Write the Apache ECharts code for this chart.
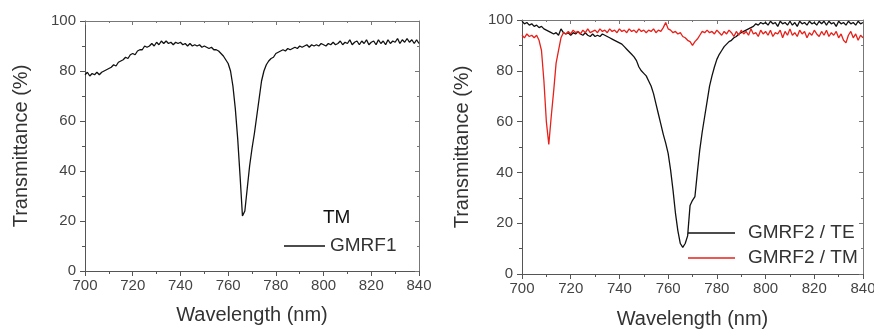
<!DOCTYPE html>
<html>
<head>
<meta charset="utf-8">
<script src="https://cdn.jsdelivr.net/npm/echarts@6/dist/echarts.min.js"></script>
<style>
html,body{margin:0;padding:0;background:#fff;}
#c{width:874px;height:329px;}
</style>
</head>
<body>
<div id="c"></div>
<script>
const wavelength = [
700,701,702,703,704,705,706,707,708,709,710,711,712,713,714,715,716,717,718,719,
720,721,722,723,724,725,726,727,728,729,730,731,732,733,734,735,736,737,738,739,
740,741,742,743,744,745,746,747,748,749,750,751,752,753,754,755,756,757,758,759,
760,761,762,763,764,765,766,767,768,769,770,771,772,773,774,775,776,777,778,779,
780,781,782,783,784,785,786,787,788,789,790,791,792,793,794,795,796,797,798,799,
800,801,802,803,804,805,806,807,808,809,810,811,812,813,814,815,816,817,818,819,
820,821,822,823,824,825,826,827,828,829,830,831,832,833,834,835,836,837,838,839,840];

const gmrf1TM = [
78.5,79.5,78,79,78.5,79.5,78.5,79.5,80,80.5,81,81.5,82.5,82,83.5,84,84.5,85.5,85,86.5,
87,86.5,88,88.5,88.5,90,89.5,90,91,90,91.5,90.5,92,91,92,91,91.5,90.5,91.5,91,
91.5,90.5,91,90,91,90,90.5,90,90.5,89.5,90,89.5,89,89.5,88.5,88.5,88,87,86,84.5,
83,80,74,65,53,38,22,24,33,42,49,55,62,69,76,80,82.5,84,85,85.5,
87,87.5,88,88.5,88,89,88.5,89,89.5,89,90,89.5,90,90.5,89.5,90.5,90,90.5,90,91,
90.5,90,91,90.5,91.5,90.5,91,92,90.5,91.5,91,92.5,90.5,91.5,92,90.5,92,91,92.5,90.5,
91.5,92,90.5,92.5,91,92,90.5,92.5,91,92,91.5,93,91,92.5,91.5,93,91.5,92.5,91,92.5,91];

const gmrf2TE = [
99.5,98.5,99,98,98.5,97.5,98,97,97.5,96.5,96,95.5,95,94.5,95,94,96.5,95,94.5,95,
94,95,94.5,95.5,94.5,94,95,94,93.5,94.5,93.5,94,93.5,94.5,94,93.5,93,92.5,92,91.5,
91,90.5,89.5,88.5,87.5,86.5,85.5,84,81.5,80,79,78,76,74,71,67,63,59,55,51.5,
47.5,41,33,24,17,12,10.5,12,15,27,29,30.5,40,49,56,62,68,74,78,81.5,
84.5,86.5,88,89.5,90.5,91.5,92,93,93.5,94.5,95,95.5,96,96.5,97,97.5,98.5,98,99,98.5,
99,98,99.5,98.5,99,97.5,99.5,98.5,99,98,99.5,98,99,97.5,99.5,98.5,99,98,99.5,98.5,
99,98,99.5,98.5,99.5,98,99.5,98.5,99,97.5,99.5,98.5,99,98,99.5,98.5,99,98,99.5,98.5,99];

const gmrf2TM = [
94,93,94.5,93.5,94,93,94,92,88,76,60,51,62,72,83,88,93,95,94.5,95.5,
94.5,96,95,95.5,94.5,96,95,96.5,95,95.5,96,95,96.5,95.5,96,95,96.5,95.5,96,95,
96.5,95.5,96,95,96.5,95.5,96,95,96.5,95.5,96,95,96,95.5,96.5,95,96,95.5,97,99,
96.5,96,95,95.5,94.5,95,93.5,93,92,91.5,90,91.5,92.5,94,95.5,95,96,95,95.5,94.5,
96,95,94,95.5,94.5,96,95,93.5,95.5,94,96,94.5,95.5,94,96.5,94.5,95,93.5,96,94.5,
95.5,94,96,93.5,95,94.5,96,93,95.5,94,96.5,94,95,93.5,96,94.5,95.5,93,95,94,
96,94.5,93.5,95.5,94,96,93.5,95,94,95.5,93,94.5,92,91,94,95.5,93,94.5,92,94,93];

const xTicks = [700,720,740,760,780,800,820,840];
const yTicks = [0,20,40,60,80,100];

const leftTitle = 'TM';
const leftLegend = ['GMRF1'];
const rightLegend = ['GMRF2 / TE', 'GMRF2 / TM'];

function pairs(xs, ys){ return xs.map((x,i)=>[x, ys[i]]); }

const FONT = 'Liberation Sans, Arial, sans-serif';
const AX = '#555';

function xAxisPair(gi, nameGap){
  return [{
    gridIndex: gi, type:'value', min: xTicks[0], max: xTicks[xTicks.length-1], interval: 20,
    position:'bottom',
    name:'Wavelength (nm)', nameLocation:'middle', nameGap: nameGap,
    nameTextStyle:{fontFamily:FONT, fontSize:20, color:'#333'},
    axisLine:{show:true, onZero:false, lineStyle:{color:AX, width:1}},
    axisTick:{show:true, inside:false, length:5, lineStyle:{color:AX}},
    minorTick:{show:true, splitNumber:2, length:3, lineStyle:{color:AX}},
    axisLabel:{fontFamily:FONT, fontSize:15, color:'#444', margin:7},
    splitLine:{show:false}
  },{
    gridIndex: gi, type:'value', min: xTicks[0], max: xTicks[xTicks.length-1], interval: 20,
    position:'top',
    axisLine:{show:true, onZero:false, lineStyle:{color:'#777', width:1}},
    axisTick:{show:true, inside:true, length:4, lineStyle:{color:'#777'}},
    minorTick:{show:true, splitNumber:2, length:2, lineStyle:{color:'#777'}},
    axisLabel:{show:false}, splitLine:{show:false}
  }];
}
function yAxisPair(gi, nameGap){
  return [{
    gridIndex: gi, type:'value', min: 0, max: 100, interval: 20, position:'left',
    name:'Transmittance (%)', nameLocation:'middle', nameGap: nameGap, nameRotate: 90,
    nameTextStyle:{fontFamily:FONT, fontSize:20, color:'#333'},
    axisLine:{show:true, onZero:false, lineStyle:{color:AX, width:1}},
    axisTick:{show:true, inside:false, length:5, lineStyle:{color:AX}},
    minorTick:{show:true, splitNumber:2, length:3, lineStyle:{color:AX}},
    axisLabel:{fontFamily:FONT, fontSize:15, color:'#444', margin:9},
    splitLine:{show:false}
  },{
    gridIndex: gi, type:'value', min: 0, max: 100, interval: 20, position:'right',
    axisLine:{show:true, onZero:false, lineStyle:{color:'#777', width:1}},
    axisTick:{show:true, inside:true, length:4, lineStyle:{color:'#777'}},
    minorTick:{show:true, splitNumber:2, length:2, lineStyle:{color:'#777'}},
    axisLabel:{show:false}, splitLine:{show:false}
  }];
}

const chart = echarts.init(document.getElementById('c'), null, {renderer:'canvas'});
chart.setOption({
  backgroundColor:'#fff',
  animation:false,
  grid:[
    {left:85, top:21, width:334, height:250, outerBoundsMode:'none', containLabel:false},
    {left:522, top:20, width:341, height:254, outerBoundsMode:'none', containLabel:false}
  ],
  xAxis:[...xAxisPair(0, 34), ...xAxisPair(1, 35)],
  yAxis:[...yAxisPair(0, 54), ...yAxisPair(1, 50)],
  legend:[{
    data: leftLegend, left:284, top:236, padding:0, orient:'vertical',
    itemWidth:41, itemHeight:1.5, icon:'rect',
    textStyle:{fontFamily:FONT, fontSize:19, color:'#333', lineHeight:20}
  },{
    data: rightLegend, left:688, top:223, padding:0, orient:'vertical', itemGap:5,
    itemWidth:47, itemHeight:1.5, icon:'rect',
    textStyle:{fontFamily:FONT, fontSize:19, color:'#333', lineHeight:20, padding:[0,0,0,8]}
  }],
  graphic:[{
    type:'text', left:323, top:208,
    style:{text:leftTitle, font:'19px Liberation Sans, Arial, sans-serif', fill:'#111'}
  }],
  series:[{
    name:'GMRF1', type:'line', xAxisIndex:0, yAxisIndex:0,
    data: pairs(wavelength, gmrf1TM), symbol:'none', color:'#111',
    lineStyle:{color:'#111', width:1.3}
  },{
    name:'GMRF2 / TE', type:'line', xAxisIndex:2, yAxisIndex:2,
    data: pairs(wavelength, gmrf2TE), symbol:'none', color:'#111',
    lineStyle:{color:'#111', width:1.3}
  },{
    name:'GMRF2 / TM', type:'line', xAxisIndex:2, yAxisIndex:2,
    data: pairs(wavelength, gmrf2TM), symbol:'none', color:'#e8201a',
    lineStyle:{color:'#e8201a', width:1.3}
  }]
});
</script>
</body>
</html>
